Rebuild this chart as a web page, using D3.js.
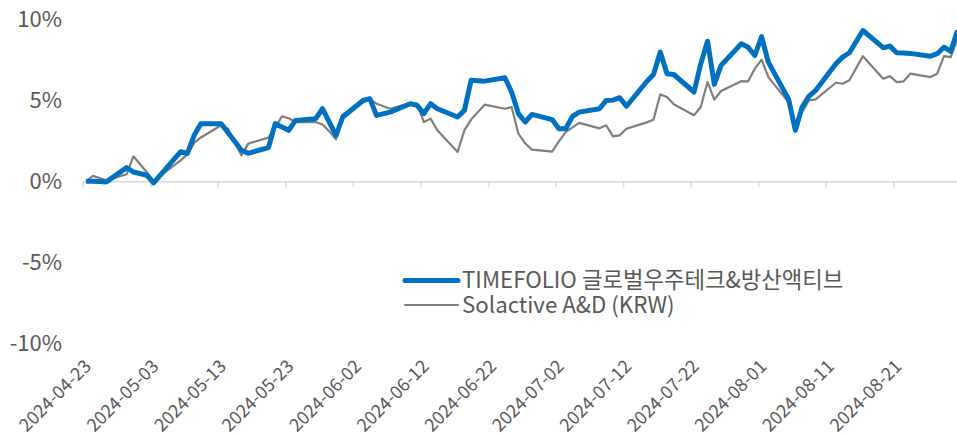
<!DOCTYPE html>
<html>
<head>
<meta charset="utf-8">
<script src="https://cdn.jsdelivr.net/npm/d3@7"></script>
<style>
html,body{margin:0;padding:0;background:#fff;}
svg{display:block;}
text{font-family:"Noto Sans CJK KR","Noto Sans",sans-serif;fill:#595959;}
</style>
</head>
<body>
<svg id="chart" width="957" height="435"></svg>
<script>
const dates = ["2024-04-23","2024-04-24","2024-04-25","2024-04-26","2024-04-29","2024-04-30","2024-05-02","2024-05-03",
"2024-05-07","2024-05-08","2024-05-09","2024-05-10","2024-05-13","2024-05-14","2024-05-16","2024-05-17",
"2024-05-20","2024-05-21","2024-05-22","2024-05-23","2024-05-24","2024-05-27","2024-05-28","2024-05-29","2024-05-30","2024-05-31",
"2024-06-03","2024-06-04","2024-06-05","2024-06-07","2024-06-10","2024-06-11","2024-06-12","2024-06-13","2024-06-14",
"2024-06-17","2024-06-18","2024-06-19","2024-06-20","2024-06-21","2024-06-24","2024-06-25","2024-06-26","2024-06-27","2024-06-28",
"2024-07-01","2024-07-02","2024-07-03","2024-07-04","2024-07-05","2024-07-08","2024-07-09","2024-07-10","2024-07-11","2024-07-12",
"2024-07-15","2024-07-16","2024-07-17","2024-07-18","2024-07-19","2024-07-22","2024-07-23","2024-07-24","2024-07-25","2024-07-26",
"2024-07-29","2024-07-30","2024-07-31","2024-08-01","2024-08-02","2024-08-05","2024-08-06","2024-08-07","2024-08-08","2024-08-09",
"2024-08-12","2024-08-13","2024-08-14","2024-08-16","2024-08-19","2024-08-20","2024-08-21","2024-08-22","2024-08-23",
"2024-08-26","2024-08-27","2024-08-28","2024-08-29","2024-08-30"];

const timefolio = [0.00,0.00,-0.02,-0.04,0.84,0.57,0.37,-0.10,
1.82,1.72,2.83,3.55,3.55,3.00,1.91,1.72,
2.07,3.55,3.34,3.14,3.75,3.86,4.47,3.65,2.83,3.96,
4.98,5.09,4.06,4.26,4.78,4.68,4.17,4.78,4.47,
3.96,4.37,6.22,6.20,6.17,6.38,5.50,4.17,3.65,4.12,
3.80,3.24,3.24,4.00,4.26,4.47,4.98,5.00,5.15,4.62,
6.15,6.58,7.96,6.63,6.58,5.50,7.24,8.63,5.97,7.14,
8.47,8.26,7.75,8.92,7.34,5.05,3.14,4.57,5.23,5.60,
7.24,7.65,7.92,9.29,8.23,8.33,7.92,7.90,7.88,
7.71,7.86,8.26,8.00,9.29];

const solactive = [0.00,0.33,0.20,0.06,0.43,1.54,0.55,0.02,
1.29,1.66,2.36,2.70,3.45,3.24,1.60,2.32,
2.69,3.34,4.00,3.88,3.65,3.65,3.50,3.08,2.58,4.12,
4.86,5.05,4.78,4.47,4.82,4.78,3.65,3.86,3.14,
1.80,3.14,3.80,4.26,4.72,4.47,4.57,2.93,2.34,1.95,
1.83,2.46,3.03,3.32,3.60,3.26,3.45,2.77,2.83,3.24,
3.63,3.79,5.35,5.19,4.75,4.07,4.58,6.12,5.03,5.56,
6.17,6.15,6.94,7.49,6.42,4.86,3.45,4.26,4.98,5.05,
6.07,6.01,6.22,7.71,6.32,6.48,6.11,6.15,6.63,
6.42,6.63,7.71,7.65,8.80];

const tickLabels = ["2024-04-23","2024-05-03","2024-05-13","2024-05-23","2024-06-02","2024-06-12","2024-06-22",
"2024-07-02","2024-07-12","2024-07-22","2024-08-01","2024-08-11","2024-08-21"];
const yTicks = [-10,-5,0,5,10];
const seriesNames = ["TIMEFOLIO 글로벌우주테크&방산액티브","Solactive A&D (KRW)"];
const seriesColors = ["#0070C0","#7F7F7F"];

const parse = d3.utcParse("%Y-%m-%d");
const svg = d3.select("#chart");

const x0 = 82.7, dayW = 6.755;
const x = d3.scaleUtc()
  .domain([parse("2024-04-23"), parse("2024-08-31")])
  .range([x0, x0 + 130*dayW]);
const y = d3.scaleLinear().domain([-10,10]).range([343.5,19]);

const px = d => x(d3.utcHour.offset(parse(d), 12));

svg.append("g").selectAll("text").data(yTicks).join("text")
  .attr("x", 62).attr("y", d => y(d)).attr("dy","0.35em")
  .attr("text-anchor","end").style("font-size","22px")
  .text(d => d + "%");

const xAxis = d3.axisBottom(x)
  .tickValues(tickLabels.map(parse))
  .tickSize(6).tickSizeOuter(0)
  .tickFormat(d3.utcFormat("%Y-%m-%d"));
const gx = svg.append("g").attr("transform", `translate(0,${y(0)})`).call(xAxis);
gx.select(".domain").attr("stroke","#D9D9D9").attr("stroke-width",1.5);
gx.selectAll(".tick line").attr("stroke","#D9D9D9").attr("stroke-width",1.5);
gx.selectAll(".tick text").remove();

svg.append("g").selectAll("text").data(tickLabels).join("text")
  .attr("transform", d => `translate(${x(parse(d)) + 9.5},367.5) rotate(-45)`)
  .attr("text-anchor","end").style("font-size","18px")
  .text(d => d);

const line = d3.line().x((d,i) => px(dates[i])).y(d => y(d));
svg.append("path").datum(solactive)
  .attr("fill","none").attr("stroke",seriesColors[1]).attr("stroke-width",2.2)
  .attr("stroke-linejoin","round").attr("d", line);
svg.append("path").datum(timefolio)
  .attr("fill","none").attr("stroke",seriesColors[0]).attr("stroke-width",5)
  .attr("stroke-linejoin","round").attr("d", line);

const lg = svg.append("g");
const legendY = [280.5, 305];
const legendW = [5, 2.2];
seriesNames.forEach((name,i) => {
  lg.append("line").attr("x1",405).attr("x2",458).attr("y1",legendY[i]).attr("y2",legendY[i])
    .attr("stroke",seriesColors[i]).attr("stroke-width",legendW[i]).attr("stroke-linecap","round");
  lg.append("text").attr("x",462).attr("y",legendY[i]).attr("dy","0.35em")
    .style("font-size","22.3px").text(name);
});
</script>
</body>
</html>
